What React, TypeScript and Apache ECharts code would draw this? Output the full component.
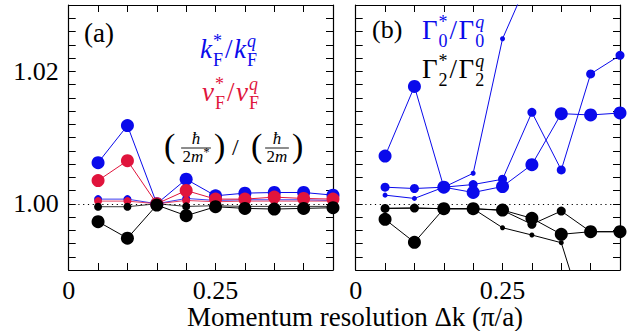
import React, { useEffect, useRef } from "react";
import * as echarts from "echarts";

// Momentum resolution Δk (π/a)
const dk = [0.05, 0.1, 0.15, 0.2, 0.25, 0.3, 0.35, 0.4, 0.45];

// Panel (a)
const kLarge = [1.0062, 1.0118, 1.0, 1.0037, 1.0012, 1.0016, 1.0017, 1.0017, 1.0013];
const vLarge = [1.0035, 1.0065, 1.0, 1.002, 1.0007, 1.0007, 1.001, 1.0008, 1.0007];
const mLarge = [0.9973, 0.9948, 0.9998, 0.9982, 0.99955, 0.9993, 0.9992, 0.9993, 0.9994];
const kSmall = [1.0007, 1.0007, 1.0, 1.0008, 1.0005, 1.0006, 1.0006, 1.0006, 1.0005];
const vSmall = [1.0004, 1.0004, 1.0, 1.0005, 1.0003, 1.0004, 1.0004, 1.0004, 1.0004];
const mSmall = [0.99955, 0.99955, 1.0, 0.9996, 0.9997, 0.9996, 0.9996, 0.9996, 0.9996];

// Panel (b)
const g0Large = [1.0072, 1.0177, 1.0025, 1.0017, 1.0026, 1.0059, 1.0136, 1.0134, 1.0137];
const g0Mid = [1.0025, 1.0023, 1.0025, 1.0029, 1.0037, 1.0138, 1.0051, 1.0196, 1.0224];
const g0Small = [1.0013, 1.0008, 1.0025, 1.0046, 1.0249, 1.035, null, null, null];
const g2Large = [0.99765, 0.99418, 0.99925, 0.99925, 0.99905, 0.9978, 0.99539, 0.99578, 0.99578];
const g2Mid = [0.9993, 0.99935, 0.99925, 0.99925, 0.999, 0.9969, 0.9989, 0.99578, 0.99578];
const g2Small = [0.9993, 0.99935, 0.99925, 0.99925, 0.99638, 0.99528, 0.99412, 0.98, null];

const xLabels = ["0", "0.25"];
const yLabels = ["1.00", "1.02"];

const BLUE = "#0a0aeb";
const RED = "#e0143c";
const BLACK = "#000000";
const FONT = "'Liberation Serif', 'DejaVu Serif', serif";

let ctx: CanvasRenderingContext2D | null = null;
function measure(t: string, s: number, it?: boolean) {
  if (!ctx) ctx = document.createElement("canvas").getContext("2d");
  ctx!.font = `${it ? "italic " : ""}${s}px ${FONT}`;
  return ctx!.measureText(t).width;
}

function txt(t: string, x: number, baseline: number, s: number, color: string, it?: boolean, align = "left") {
  return {
    type: "text",
    x,
    y: baseline - 0.34 * s,
    z: 100,
    silent: true,
    style: {
      text: t,
      fontSize: s,
      lineHeight: Math.round(s * 0.7),
      fontFamily: FONT,
      fontStyle: it ? "italic" : "normal",
      fill: color,
      textAlign: align,
      align,
      textVerticalAlign: "middle",
      verticalAlign: "middle",
    },
  };
}

type Piece =
  | { t: string; s: number; it?: boolean; dy?: number; gap?: number }
  | { sup: string; sub: string; s: number; supIt?: boolean; gap?: number; supDy: number; subDy: number };

function mathRow(pieces: Piece[], x0: number, B: number, color: string) {
  const els: any[] = [];
  let x = x0;
  for (const p of pieces as any[]) {
    if (p.t !== undefined) {
      els.push(txt(p.t, x, B + (p.dy || 0), p.s, color, p.it));
      x += measure(p.t, p.s, p.it) + (p.gap || 0);
    } else {
      els.push(txt(p.sup, x, B + p.supDy, p.s, color, p.supIt));
      els.push(txt(p.sub, x, B + p.subDy, p.s, color, false));
      x += Math.max(measure(p.sup, p.s, p.supIt), measure(p.sub, p.s, false)) + (p.gap || 0);
    }
  }
  return { els, width: x - x0 };
}

function ratioLabel(main: string, mainIt: boolean, sub: string, x0: number, B: number, color: string, S: number, s: number) {
  const supDy = -0.42 * S;
  const subDy = 0.3 * S;
  return mathRow(
    [
      { t: main, s: S, it: mainIt, gap: 1 },
      { sup: "*", sub, s, supDy, subDy, gap: 2 },
      { t: "/", s: S, gap: 1.5 },
      { t: main, s: S, it: mainIt, gap: 1 },
      { sup: "q", sub, s, supIt: true, supDy, subDy },
    ],
    x0,
    B,
    color
  ).els;
}

function fraction(num: Piece[], den: Piece[], cx: number, barY: number, color: string) {
  const wn = mathRow(num, 0, 0, color).width;
  const wd = mathRow(den, 0, 0, color).width;
  const w = Math.max(wn, wd) + 3;
  const els: any[] = [];
  els.push(...mathRow(num, cx - wn / 2, barY - 4, color).els);
  els.push(...mathRow(den, cx - wd / 2, barY + 14.5, color).els);
  els.push({
    type: "line",
    z: 100,
    silent: true,
    shape: { x1: cx - w / 2, y1: barY, x2: cx + w / 2, y2: barY },
    style: { stroke: color, lineWidth: 0.9 },
  });
  return els;
}

function buildGraphics() {
  const g: any[] = [];
  g.push(txt("(a)", 84, 42, 27, BLACK));
  g.push(txt("(b)", 372, 38, 26, BLACK));
  g.push(...ratioLabel("k", true, "F", 200, 58, BLUE, 27, 18));
  g.push(...ratioLabel("v", true, "F", 202, 101, RED, 27, 18));
  g.push(...ratioLabel("Γ", false, "0", 422, 39, BLUE, 27, 18));
  g.push(...ratioLabel("Γ", false, "2", 422, 78, BLACK, 27, 18));
  // (ħ/2m*) / (ħ/2m)
  const barY = 148;
  const fs = 17;
  const parS = 34;
  const parB = barY + 9;
  g.push(txt("(", 164, parB, parS, BLACK));
  g.push(
    ...fraction(
      [{ t: "ħ", s: fs, it: true }],
      [
        { t: "2", s: fs },
        { t: "m", s: fs, it: true },
        { t: "*", s: 12, dy: -6 },
      ],
      196,
      barY,
      BLACK
    )
  );
  g.push(txt(")", 214, parB, parS, BLACK));
  g.push(txt("/", 232, barY + 7, 24, BLACK));
  g.push(txt("(", 251, parB, parS, BLACK));
  g.push(
    ...fraction(
      [{ t: "ħ", s: fs, it: true }],
      [
        { t: "2", s: fs },
        { t: "m", s: fs, it: true },
      ],
      277,
      barY,
      BLACK
    )
  );
  g.push(txt(")", 292, parB, parS, BLACK));
  // x axis title
  g.push({
    type: "text",
    x: 355,
    y: 317,
    z: 100,
    silent: true,
    style: {
      text: "Momentum resolution Δk (π/a)",
      fontSize: 27,
      lineHeight: 22,
      fontFamily: FONT,
      fill: BLACK,
      textAlign: "center",
      align: "center",
      textVerticalAlign: "middle",
      verticalAlign: "middle",
    },
  });
  return g;
}

function buildOption() {
  const grids = [
    { left: 68.7, top: 5, width: 264.3, height: 265 },
    { left: 355.7, top: 5, width: 264.3, height: 265 },
  ];
  const axisLine = { show: true, onZero: false, lineStyle: { color: BLACK, width: 1.2 } };
  const axisTick = { show: true, inside: true, length: 7, lineStyle: { color: BLACK, width: 1 } };
  const xFmt = (v: number) =>
    Math.abs(v) < 1e-9 ? xLabels[0] : Math.abs(v - 0.25) < 1e-9 ? xLabels[1] : "";
  const yFmt = (v: number) =>
    Math.abs(v - 1) < 1e-9 ? yLabels[0] : Math.abs(v - 1.02) < 1e-9 ? yLabels[1] : "";
  const xAxis: any[] = [];
  const yAxis: any[] = [];
  for (let i = 0; i < 2; i++) {
    for (const pos of ["bottom", "top"]) {
      xAxis.push({
        type: "value",
        gridIndex: i,
        position: pos,
        min: 0,
        max: 0.45,
        interval: 0.05,
        axisLine,
        axisTick,
        splitLine: { show: false },
        axisLabel:
          pos === "bottom"
            ? { show: true, formatter: xFmt, fontSize: 26, lineHeight: 20, fontFamily: FONT, color: BLACK, margin: 10 }
            : { show: false },
      });
    }
    for (const pos of ["left", "right"]) {
      yAxis.push({
        type: "value",
        gridIndex: i,
        position: pos,
        min: 0.99,
        max: 1.03,
        interval: 0.002,
        axisLine,
        axisTick,
        splitLine: { show: false },
        axisLabel:
          pos === "left" && i === 0
            ? { show: true, formatter: yFmt, fontSize: 26, lineHeight: 20, fontFamily: FONT, color: BLACK, margin: 10 }
            : { show: false },
      });
    }
  }
  const ser = (data: (number | null)[], color: string, size: number, panel: number, z: number, opacity = 1) => ({
    type: "line",
    xAxisIndex: panel * 2,
    yAxisIndex: panel * 2,
    data: dk.map((x, i) => [x, data[i] === null ? null : data[i]]),
    symbol: "circle",
    symbolSize: size,
    showSymbol: true,
    clip: true,
    z,
    itemStyle: { color, opacity: 1 },
    lineStyle: { color, width: 1, opacity },
    emphasis: { disabled: true },
  });
  const dotted = {
    silent: true,
    symbol: "none",
    label: { show: false },
    lineStyle: { type: [1.2, 3.6], color: BLACK, width: 1.2 },
    data: [{ yAxis: 1 }],
  };
  const series: any[] = [
    { ...ser(kSmall, BLUE, 8, 0, 2, 0.8), markLine: dotted },
    ser(vSmall, RED, 8, 0, 3, 0.8),
    ser(mSmall, BLACK, 8, 0, 4, 0.8),
    ser(kLarge, BLUE, 13, 0, 5),
    ser(vLarge, RED, 13, 0, 6),
    ser(mLarge, BLACK, 13, 0, 7),
    { ...ser(g0Small, BLUE, 5, 1, 2), markLine: dotted },
    ser(g0Mid, BLUE, 9, 1, 3),
    ser(g0Large, BLUE, 13, 1, 4),
    ser(g2Small, BLACK, 5, 1, 5),
    ser(g2Mid, BLACK, 9, 1, 6),
    ser(g2Large, BLACK, 13, 1, 7),
  ];
  return {
    animation: false,
    backgroundColor: "#ffffff",
    grid: grids,
    xAxis,
    yAxis,
    series,
    graphic: buildGraphics(),
  };
}

const CSS = "#chart svg text { font-family: 'Liberation Serif', 'DejaVu Serif', serif !important; }";

export default function App() {
  const ref = useRef<HTMLDivElement>(null);
  useEffect(() => {
    const chart = echarts.init(ref.current!, null, { renderer: "svg" });
    chart.setOption(buildOption() as any);
    return () => chart.dispose();
  }, []);
  return (
    <>
      <style>{CSS}</style>
      <div
        id="chart"
        ref={ref}
        style={{ position: "absolute", left: 0, top: 0, width: 627, height: 331, background: "#fff" }}
      />
    </>
  );
}
